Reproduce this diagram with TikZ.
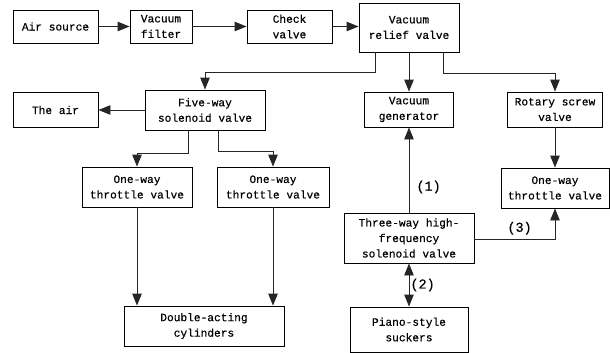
\documentclass[tikz,border=0pt]{standalone}
\usepackage{fontspec}
\setmainfont{Liberation Mono}
\newfontfamily\boxfont[FakeBold=0.4]{Liberation Mono}
\usetikzlibrary{arrows.meta,calc}
\begin{document}
\begin{tikzpicture}[x=1pt,y=-1pt,
  box/.style={draw=black,line width=0.9pt,inner sep=0pt,align=center,font=\boxfont\fontsize{11.2}{15.5}\selectfont},
  arr/.style={draw=black!85,line width=0.9pt,-{Triangle[length=12pt,width=9.5pt]}},
  darr/.style={draw=black!85,line width=0.9pt,{Triangle[length=12pt,width=9.5pt]}-{Triangle[length=12pt,width=9.5pt]}},
  lab/.style={font=\boxfont\fontsize{13.5}{15}\selectfont,inner sep=0pt}]
\useasboundingbox (0,0) rectangle (610,353);
\node[box,minimum width=85pt,minimum height=33pt] (air) at (55.5,26.5) {Air source};
\node[box,minimum width=62pt,minimum height=33pt] (filter) at (161,26.5) {Vacuum\\filter};
\node[box,minimum width=85pt,minimum height=33pt] (check) at (289.5,26.5) {Check\\valve};
\node[box,minimum width=100pt,minimum height=49pt] (relief) at (409,27.5) {Vacuum\\relief valve};
\node[box,minimum width=85pt,minimum height=35pt] (theair) at (55.5,110) {The air};
\node[box,minimum width=120pt,minimum height=40pt] (five) at (205,110) {Five-way\\solenoid valve};
\node[box,minimum width=89pt,minimum height=35pt] (gen) at (409,109.5) {Vacuum\\generator};
\node[box,minimum width=95pt,minimum height=35pt] (rotary) at (555,109.5) {Rotary screw\\valve};
\node[box,minimum width=110pt,minimum height=40pt] (tl) at (137,187) {One-way\\throttle valve};
\node[box,minimum width=112pt,minimum height=40pt] (tm) at (273,187) {One-way\\throttle valve};
\node[box,minimum width=108pt,minimum height=40pt] (tr) at (555,188) {One-way\\throttle valve};
\node[box,minimum width=130pt,minimum height=50pt] (three) at (409,238) {Three-way high-\\frequency\\solenoid valve};
\node[box,minimum width=118pt,minimum height=45pt] (piano) at (409,329.5) {Piano-style\\suckers};
\node[box,minimum width=160pt,minimum height=40pt] (dbl) at (204,326) {Double-acting\\cylinders};
\draw[arr] (air.east) -- (filter.west);
\draw[arr] (filter.east) -- (check.west);
\draw[arr] (check.east) -- (check.east -| relief.west);
\draw[arr] ([xshift=-34pt]relief.south) -- ++(0,20) -| (five.north);
\draw[arr] (relief.south) -- (gen.north);
\draw[arr] ([xshift=34pt]relief.south) -- ++(0,21) -| (rotary.north);
\draw[arr] (five.west) -- (theair.east);
\draw[arr] ([xshift=-17pt]five.south) -- ++(0,23) -| (tl.north);
\draw[arr] ([xshift=13pt]five.south) -- ++(0,21) -| (tm.north);
\draw[arr] (tl.south) -- (tl.south |- dbl.north);
\draw[arr] (tm.south) -- (tm.south |- dbl.north);
\draw[arr] (rotary.south) -- (tr.north);
\draw[arr] (three.north) -- node[lab,right=7pt,pos=0.3] (l1) {(1)} (gen.south);
\draw[arr] ([yshift=-1pt]three.east) -| node[lab,pos=0.28,above=4pt] (l3) {(3)} (tr.south);
\draw[darr] (three.south) -- node[lab,right=1pt] (l2) {(2)} (piano.north);
\end{tikzpicture}
\end{document}
